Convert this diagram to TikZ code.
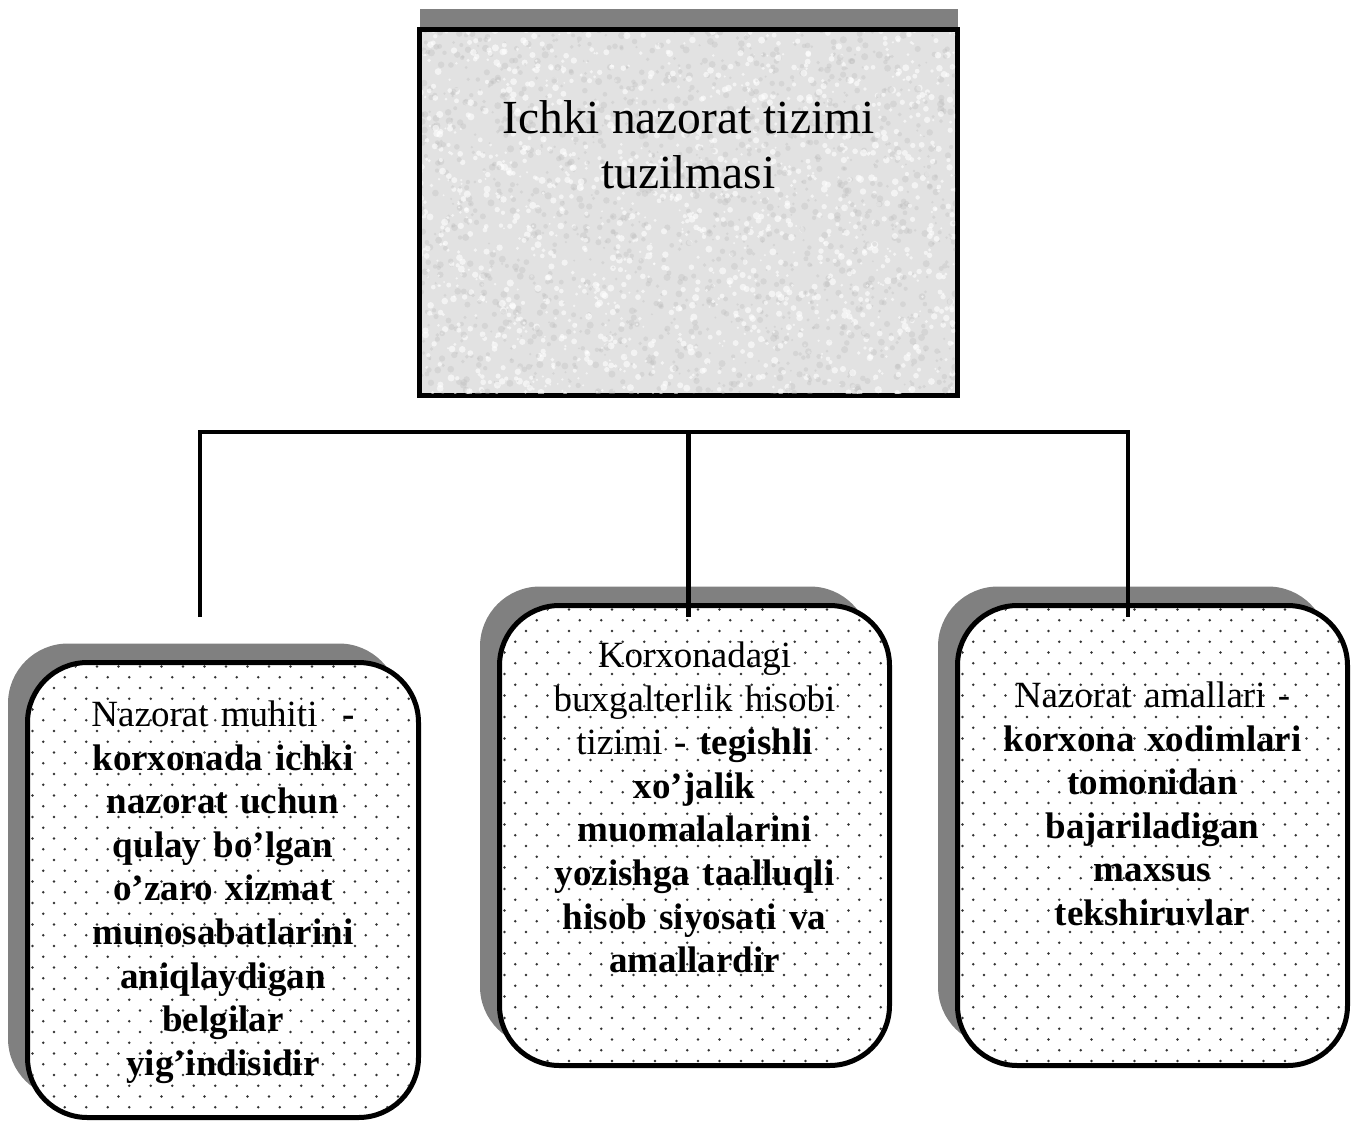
\documentclass[tikz,border=0pt]{standalone}
\usepackage{fontspec}
\setmainfont{Liberation Serif}
\usetikzlibrary{shadows}
\definecolor{shadowgray}{RGB}{128,128,128}
\definecolor{topfill}{RGB}{226,226,226}
\definecolor{dotgray}{RGB}{50,50,50}
\definecolor{speckdark}{RGB}{190,190,190}
\newcommand\dotgrid[2]{%
  \foreach \i in {0,...,44}{%
    \foreach \j in {0,...,19}{%
      \fill[dotc] ({#1+5+\j*21.5+mod(\i,2)*10.75},{#2+4+\i*10.75}) circle[radius=1.35];
    }%
  }%
}
\tikzset{
  boxline/.style={draw=black, line width=5pt},
  rbox/.style={boxline, fill=white, rounded corners=60pt, outer sep=0pt, inner sep=0pt,
    drop shadow={shadow xshift=-19.5pt, shadow yshift=19pt, fill=shadowgray, opacity=1}},
  topbox/.style={boxline, fill=topfill, outer sep=0pt, inner sep=0pt,
    drop shadow={shadow xshift=0pt, shadow yshift=21pt, fill=shadowgray, opacity=1}},
  boxtext/.style={text width=380pt, align=center, inner sep=0pt, anchor=north,
    font=\fontsize{37}{43.6}\selectfont},
  titletext/.style={align=center, inner sep=0pt, anchor=north,
    font=\fontsize{47.5}{55}\selectfont},
  conn/.style={draw=black, line width=4.5pt, line join=miter},
  dotc/.style={fill=dotgray},
}
\begin{document}
\begin{tikzpicture}[x=1pt,y=-1pt]
\useasboundingbox (0,0) rectangle (1352,1122);

% top box
\node[topbox, minimum width=538pt, minimum height=366pt] (top) at (688.5,212.5) {};
\begin{scope}
  \clip (422,32) rectangle (955,393);
  \pgfmathsetseed{42}
  \foreach \k in {1,...,3000}{%
    \pgfmathsetmacro\xx{420+538*rnd}%
    \pgfmathsetmacro\yy{30+366*rnd}%
    \pgfmathsetmacro\rr{1+2.6*rnd}%
    \ifodd\k
      \fill[white, opacity=0.6] (\xx,\yy) circle[radius=\rr];
    \else
      \fill[speckdark, opacity=0.35] (\xx,\yy) circle[radius=\rr];
    \fi
  }
\end{scope}
\node[titletext] (title) at (688.5,100.6) {Ichki nazorat tizimi\\tuzilmasi};

% lower boxes
\node[rbox, minimum width=391pt, minimum height=455pt] (env) at (223,890) {};
\node[rbox, minimum width=390pt, minimum height=460pt] (acc) at (694.5,835.5) {};
\node[rbox, minimum width=390pt, minimum height=460pt] (ops) at (1152.5,835.5) {};

\begin{scope}
  \clip[rounded corners=57.5pt] ([xshift=2.5pt,yshift=2.5pt]env.south west) rectangle ([xshift=-2.5pt,yshift=-2.5pt]env.north east);
  \dotgrid{27.5}{662.5}
\end{scope}
\begin{scope}
  \clip[rounded corners=57.5pt] ([xshift=2.5pt,yshift=2.5pt]acc.south west) rectangle ([xshift=-2.5pt,yshift=-2.5pt]acc.north east);
  \dotgrid{499.5}{605.5}
\end{scope}
\begin{scope}
  \clip[rounded corners=57.5pt] ([xshift=2.5pt,yshift=2.5pt]ops.south west) rectangle ([xshift=-2.5pt,yshift=-2.5pt]ops.north east);
  \dotgrid{957.5}{605.5}
\end{scope}

\node[boxtext] (envtxt) at (223,700.7) {Nazorat muhiti \ \textbf{-}\\
  \bfseries korxonada ichki\\nazorat uchun\\qulay bo’lgan\\o’zaro xizmat\\munosabatlarini\\aniqlaydigan\\belgilar\\yig’indisidir};
\node[boxtext] (acctxt) at (694.5,641.7) {Korxonadagi\\buxgalterlik hisobi\\tizimi \textbf{- tegishli}\\
  \bfseries xo’jalik\\muomalalarini\\yozishga taalluqli\\hisob siyosati va\\amallardir};
\node[boxtext] (opstxt) at (1152.5,681.7) {Nazorat amallari -\\
  \bfseries korxona xodimlari\\tomonidan\\bajariladigan\\maxsus\\tekshiruvlar};

% connectors
\coordinate (busL) at (200,432);
\coordinate (busM) at (top.south |- busL);
\coordinate (busR) at (1128,432);
\coordinate (endL) at (200,617);
\coordinate (endM) at (busM |- endL);
\coordinate (endR) at (1128,617);
\draw[conn] (endL) -- (busL) -- (busR) -- (endR);
\draw[conn] (busM) -- (endM);
\end{tikzpicture}
\end{document}
